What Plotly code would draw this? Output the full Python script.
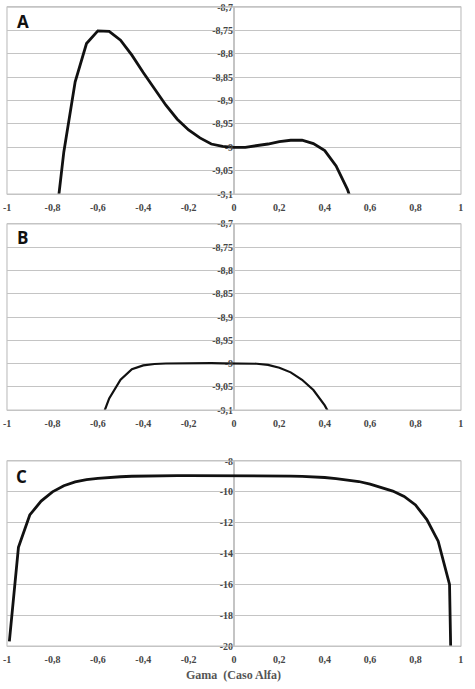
import plotly.graph_objects as go

# ---- data ----
gama_a = [-0.8, -0.75, -0.7, -0.65, -0.6, -0.55, -0.5, -0.45, -0.4, -0.35, -0.3, -0.25,
          -0.2, -0.15, -0.1, -0.05, 0.0, 0.05, 0.1, 0.15, 0.2, 0.25, 0.3, 0.35, 0.4,
          0.45, 0.5, 0.55]
val_a = [-9.22, -9.01, -8.86, -8.778, -8.751, -8.752, -8.771, -8.803, -8.840, -8.876,
         -8.91, -8.94, -8.963, -8.98, -8.993, -8.998, -9.0, -9.0, -8.997, -8.993,
         -8.988, -8.985, -8.985, -8.992, -9.007, -9.04, -9.09, -9.16]

gama_b = [-0.6, -0.55, -0.5, -0.45, -0.4, -0.35, -0.3, -0.25, -0.2, -0.15, -0.1, -0.05,
          0.0, 0.05, 0.1, 0.15, 0.2, 0.25, 0.3, 0.35, 0.4, 0.45]
val_b = [-9.14, -9.075, -9.035, -9.012, -9.004, -9.001, -9.0, -8.9995, -8.9993, -8.999,
         -8.9993, -8.9995, -9.0, -9.0, -9.0005, -9.003, -9.009, -9.019, -9.035, -9.057,
         -9.09, -9.135]

gama_c = [-0.99, -0.95, -0.9, -0.85, -0.8, -0.75, -0.7, -0.65, -0.6, -0.55, -0.5, -0.45,
          -0.4, -0.35, -0.3, -0.25, -0.2, -0.15, -0.1, -0.05, 0.0, 0.05, 0.1, 0.15, 0.2,
          0.25, 0.3, 0.35, 0.4, 0.45, 0.5, 0.55, 0.6, 0.65, 0.7, 0.75, 0.8, 0.85, 0.9,
          0.95, 0.99]
val_c = [-19.7, -13.6, -11.5, -10.6, -10.0, -9.6, -9.35, -9.2, -9.12, -9.06, -9.02, -8.99,
         -8.97, -8.96, -8.95, -8.95, -8.95, -8.95, -8.95, -8.95, -8.95, -8.95, -8.95,
         -8.96, -8.97, -8.98, -9.0, -9.03, -9.07, -9.14, -9.22, -9.33, -9.5, -9.7, -9.95,
         -10.3, -10.85, -11.8, -13.2, -16.0, -48.0]

x_ticks = [-1, -0.8, -0.6, -0.4, -0.2, 0, 0.2, 0.4, 0.6, 0.8, 1]
x_labels = ["-1", "-0,8", "-0,6", "-0,4", "-0,2", "0", "0,2", "0,4", "0,6", "0,8", "1"]

y_ticks_ab = [-8.7, -8.75, -8.8, -8.85, -8.9, -8.95, -9.0, -9.05, -9.1]
y_labels_ab = ["-8,7", "-8,75", "-8,8", "-8,85", "-8,9", "-8,95", "-9", "-9,05", "-9,1"]

y_ticks_c = [-8, -10, -12, -14, -16, -18, -20]
y_labels_c = ["-8", "-10", "-12", "-14", "-16", "-18", "-20"]

# letter, x, y, y ticks, y labels, y range, y domain, line width, letter centre (px)
panels = [
    ("A", gama_a, val_a, y_ticks_ab, y_labels_ab, [-9.1, -8.7], [0.7184, 0.9898], 2.8, (23, 21)),
    ("B", gama_b, val_b, y_ticks_ab, y_labels_ab, [-9.1, -8.7], [0.4049, 0.6749], 2.2, (22, 237)),
    ("C", gama_c, val_c, y_ticks_c, y_labels_c, [-20, -8], [0.0624, 0.3309], 2.8, (21, 476)),
]

W, H = 475, 689
X_DOM = [0.0147, 0.9705]
GRID = "#c4c4c4"
TICKFONT = dict(family="Times New Roman, Liberation Serif, serif", size=10,
                color="#454545", weight="bold")

fig = go.Figure()
layout = {}

for i, (letter, xs, ys, yt, yl, yr, ydom, lw, (lx, ly)) in enumerate(panels):
    n = "" if i == 0 else str(i + 1)
    fig.add_trace(go.Scatter(
        x=xs, y=ys, mode="lines",
        line=dict(color="#111111", width=lw),
        xaxis="x" + n, yaxis="y" + n,
        showlegend=False, hoverinfo="skip",
    ))
    layout["xaxis" + n] = dict(
        domain=X_DOM, range=[-1.0005, 1.0005], anchor="y" + n,
        tickvals=x_ticks, ticktext=x_labels, tickfont=dict(TICKFONT),
        showgrid=False, zeroline=True, zerolinecolor=GRID, zerolinewidth=1.5,
        showline=True, linecolor=GRID, linewidth=1, mirror=True,
        ticks="", ticklabelstandoff=4, ticklabeloverflow="allow",
        automargin=False, fixedrange=True,
    )
    layout["yaxis" + n] = dict(
        domain=ydom, range=yr, anchor="free", position=0.4926, side="left",
        tickvals=yt, ticktext=yl, tickfont=dict(TICKFONT),
        showgrid=True, gridcolor=GRID, gridwidth=1, zeroline=False,
        showline=False, ticks="", ticklabelstandoff=1, ticklabeloverflow="allow",
        automargin=False, fixedrange=True,
    )
    # left/right border of the plot area
    fig.add_shape(type="rect", xref="x" + n + " domain", yref="y" + n + " domain",
                  x0=0, x1=1, y0=0, y1=1, line=dict(color=GRID, width=1.2))
    fig.add_annotation(
        x=lx / W, y=1 - ly / H, xref="paper", yref="paper",
        text=letter, showarrow=False, xanchor="center", yanchor="middle",
        font=dict(family="Open Sans", size=17, color="#111111", weight="bold"),
    )

fig.add_annotation(
    x=0.4926, y=1 - 675 / H, xref="paper", yref="paper",
    text="Gama  (Caso Alfa)", showarrow=False, xanchor="center", yanchor="middle",
    font=dict(family="Times New Roman, Liberation Serif, serif", size=12,
              color="#555555", weight="bold"),
)

fig.update_layout(
    **layout,
    width=W, height=H,
    margin=dict(l=0, r=0, t=0, b=0),
    plot_bgcolor="white", paper_bgcolor="white",
)

# the page's default 8px body margin would push the whole chart off the window
fig.write_html("out.html", config={"displayModeBar": False},
               post_script="document.body.style.margin='0';")
